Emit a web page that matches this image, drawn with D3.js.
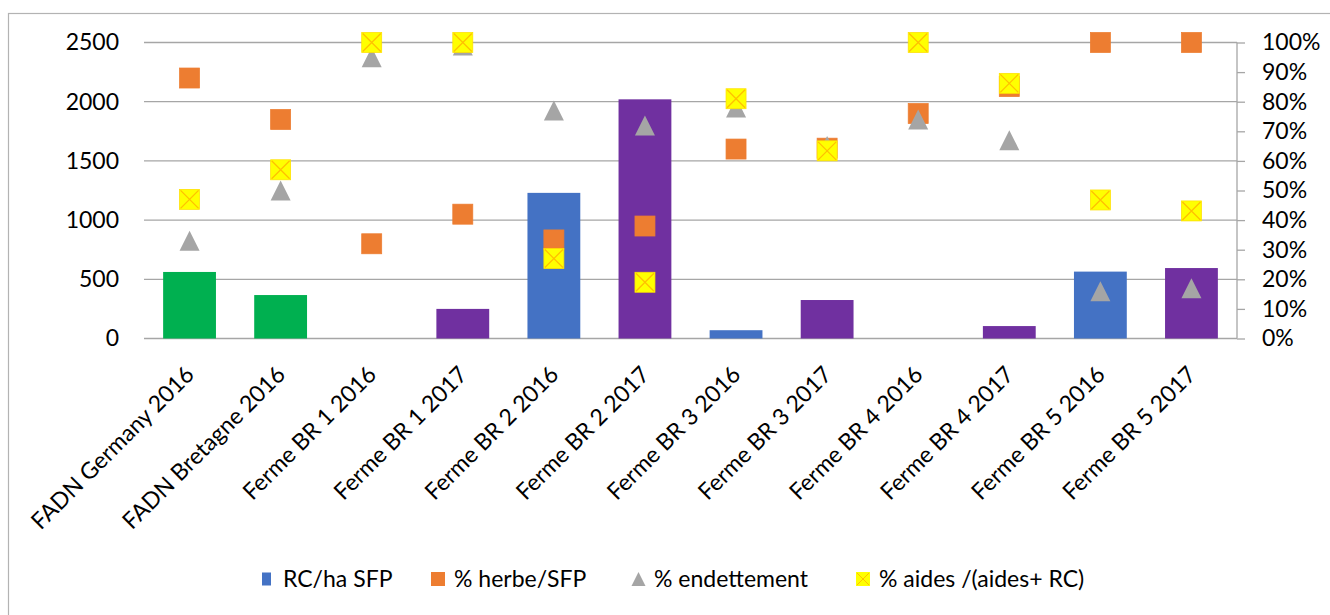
<!DOCTYPE html>
<html>
<head>
<meta charset="utf-8">
<script src="https://cdn.jsdelivr.net/npm/d3@7"></script>
<style>
  body { margin: 0; background: #fff; }
  text { font-family: Lato, "DejaVu Sans", sans-serif; }
</style>
</head>
<body>
<svg id="chart" width="1330" height="615"></svg>
<script>
// data
const categories = ["FADN Germany 2016", "FADN Bretagne 2016", "Ferme BR 1 2016", "Ferme BR 1 2017",
  "Ferme BR 2 2016", "Ferme BR 2 2017", "Ferme BR 3 2016", "Ferme BR 3 2017",
  "Ferme BR 4 2016", "Ferme BR 4 2017", "Ferme BR 5 2016", "Ferme BR 5 2017"];
const barGroup = ["FADN", "FADN", "2016", "2017", "2016", "2017", "2016", "2017", "2016", "2017", "2016", "2017"];
const rcHaSfp = [562, 367, 0, 250, 1230, 2020, 70, 325, 0, 105, 565, 595];
const herbeSfp = [0.88, 0.74, 0.32, 0.42, 0.333, 0.38, 0.64, 0.643, 0.76, 0.851, 1.0, 1.0];
const endettement = [0.33, 0.50, 0.95, 0.99, 0.77, 0.72, 0.78, 0.65, 0.74, 0.67, 0.16, 0.17];
const aides = [0.47, 0.57, 1.0, 1.0, 0.27, 0.19, 0.81, 0.634, 1.0, 0.862, 0.468, 0.431];
const leftTicks = [0, 500, 1000, 1500, 2000, 2500];
const rightTicks = [0, 0.1, 0.2, 0.3, 0.4, 0.5, 0.6, 0.7, 0.8, 0.9, 1.0];
const legendLabels = ["RC/ha SFP", "% herbe/SFP", "% endettement", "% aides /(aides+ RC)"];

const groupColor = { "FADN": "#00B050", "2016": "#4472C4", "2017": "#7030A0" };
const orange = "#ED7D31", gray = "#A5A5A5", yellow = "#FFFF00", xColor = "#FFC000";
const gridColor = "#a6a6a6";

const plot = { left: 144, right: 1237, top: 42.5, bottom: 338.5 };

const svg = d3.select("#chart");

// chart border
svg.append("rect")
  .attr("x", 8.5).attr("y", 13.5)
  .attr("width", 1400).attr("height", 700)
  .attr("fill", "none").attr("stroke", "#b3b3b3").attr("stroke-width", 1.2);

var x = d3.scaleBand().domain(categories)
  .range([plot.left, plot.right])
  .paddingInner(0.42).paddingOuter(0.21);
var yL = d3.scaleLinear().domain([0, 2500]).range([plot.bottom, plot.top]);
var yR = d3.scaleLinear().domain([0, 1]).range([plot.bottom, plot.top]);

// gridlines
svg.append("g").selectAll("line").data(leftTicks).join("line")
  .attr("x1", plot.left).attr("x2", plot.right)
  .attr("y1", d => yL(d)).attr("y2", d => yL(d))
  .attr("stroke", gridColor).attr("stroke-width", 1.3);

// left axis
var gL = svg.append("g").attr("transform", "translate(" + plot.left + ",0)")
  .call(d3.axisLeft(yL).tickValues(leftTicks).tickSize(0).tickPadding(25).tickFormat(d3.format("d")));
gL.select(".domain").remove();
gL.selectAll("text").attr("font-size", 23).attr("font-family", "Lato").attr("fill", "#000");

// right axis
var gR = svg.append("g").attr("transform", "translate(" + plot.right + ",0)")
  .call(d3.axisRight(yR).tickValues(rightTicks).tickSize(8).tickPadding(17).tickFormat(d3.format(".0%")));
gR.select(".domain").attr("stroke", gridColor).attr("stroke-width", 1.3).attr("d", "M0," + plot.bottom + "V" + plot.top);
gR.selectAll(".tick line").attr("stroke", gridColor).attr("stroke-width", 1.3);
gR.selectAll("text").attr("font-size", 23).attr("font-family", "Lato").attr("fill", "#000");

// bars
svg.append("g").selectAll("rect").data(categories).join("rect")
  .attr("x", d => x(d))
  .attr("width", x.bandwidth())
  .attr("y", (d, i) => yL(rcHaSfp[i]))
  .attr("height", (d, i) => yL(0) - yL(rcHaSfp[i]))
  .attr("fill", (d, i) => groupColor[barGroup[i]]);

// category labels
svg.append("g").selectAll("text").data(categories).join("text")
  .attr("transform", d => "translate(" + (x(d) + x.bandwidth() / 2 + 6) + ",376) rotate(-45)")
  .attr("text-anchor", "end")
  .attr("font-size", 23)
  .attr("fill", "#000")
  .text(d => d);

var cx = d => x(d) + x.bandwidth() / 2;
var ms = 20;

function drawSquares(vals, color) {
  svg.append("g").selectAll("rect").data(categories).join("rect")
    .attr("x", d => cx(d) - ms / 2)
    .attr("y", (d, i) => yR(vals[i]) - ms / 2)
    .attr("width", ms).attr("height", ms)
    .attr("fill", color)
    .attr("stroke", color).attr("stroke-width", 0.75);
}

function triPath(px, py, s) {
  return "M" + px + "," + (py - s / 2) + "L" + (px + s / 2) + "," + (py + s / 2) + "L" + (px - s / 2) + "," + (py + s / 2) + "Z";
}

// % herbe/SFP
drawSquares(herbeSfp, orange);

// % endettement
svg.append("g").selectAll("path").data(categories).join("path")
  .attr("d", (d, i) => triPath(cx(d), yR(endettement[i]), ms))
  .attr("fill", gray);

// % aides
var gA = svg.append("g").selectAll("g").data(categories).join("g")
  .attr("transform", (d, i) => "translate(" + cx(d) + "," + yR(aides[i]) + ")");
gA.append("rect")
  .attr("x", -ms / 2).attr("y", -ms / 2).attr("width", ms).attr("height", ms)
  .attr("fill", yellow).attr("stroke", "#FFE000").attr("stroke-width", 0.75);
gA.append("path")
  .attr("d", "M" + (-ms / 2 + 1) + "," + (-ms / 2 + 1) + "L" + (ms / 2 - 1) + "," + (ms / 2 - 1) +
    "M" + (ms / 2 - 1) + "," + (-ms / 2 + 1) + "L" + (-ms / 2 + 1) + "," + (ms / 2 - 1))
  .attr("stroke", xColor).attr("stroke-width", 1.3);

// legend
const legendX = [262, 431, 631, 856];
var leg = svg.append("g").selectAll("g").data(legendLabels).join("g")
  .attr("transform", (d, i) => "translate(" + legendX[i] + ",579)");
leg.each(function (d, i) {
  var g = d3.select(this);
  if (i == 0) {
    g.append("rect").attr("x", 0).attr("y", -6.5).attr("width", 9).attr("height", 13).attr("fill", "#4472C4");
  } else if (i == 1) {
    g.append("rect").attr("x", 0).attr("y", -7).attr("width", 14).attr("height", 14).attr("fill", orange);
  } else if (i == 2) {
    g.append("path").attr("d", triPath(7.5, 0, 14)).attr("fill", gray);
  } else {
    g.append("rect").attr("x", 0).attr("y", -7).attr("width", 14).attr("height", 14).attr("fill", yellow);
    g.append("path").attr("d", "M1,-6L13,6M13,-6L1,6").attr("stroke", xColor).attr("stroke-width", 1);
  }
  g.append("text")
    .attr("x", i == 0 ? 21 : 23).attr("y", 0).attr("dy", "0.35em")
    .attr("font-size", 23).attr("fill", "#000")
    .text(d);
});
</script>
</body>
</html>
